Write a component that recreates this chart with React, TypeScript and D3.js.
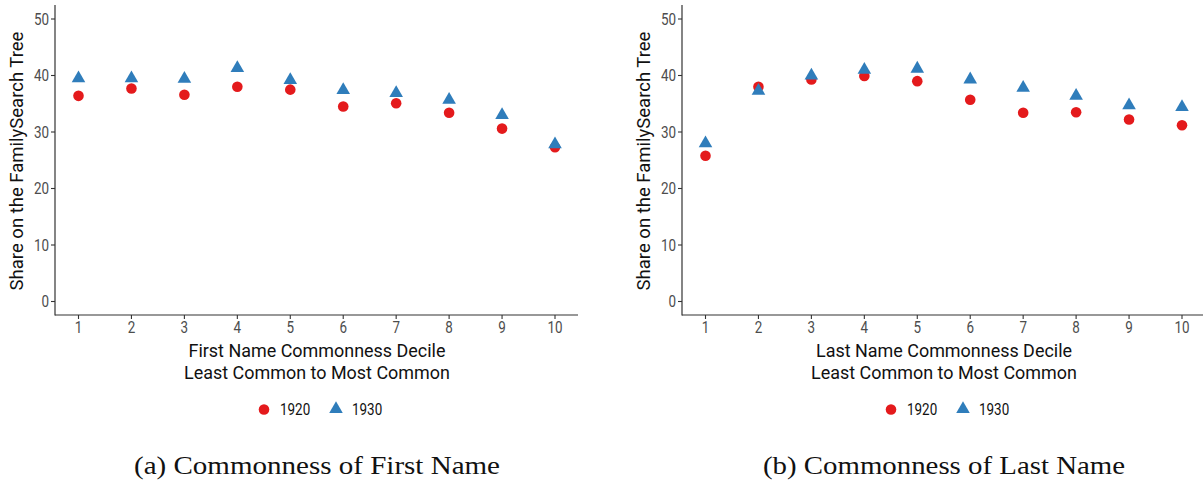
import * as d3 from 'd3';

const deciles = [1, 2, 3, 4, 5, 6, 7, 8, 9, 10];
const yTicks = [0, 10, 20, 30, 40, 50];

const first1920 = [36.4, 37.7, 36.6, 38.0, 37.5, 34.5, 35.1, 33.4, 30.6, 27.3];
const first1930 = [39.5, 39.5, 39.4, 41.3, 39.2, 37.4, 36.9, 35.7, 33.0, 27.8];
const last1920 = [25.8, 38.0, 39.3, 39.9, 39.0, 35.7, 33.4, 33.5, 32.2, 31.2];
const last1930 = [28.0, 37.3, 40.0, 41.0, 41.2, 39.3, 37.8, 36.4, 34.7, 34.4];

const RED = '#e41a1c';
const BLUE = '#2f7dbb';
const TICK_FONT = 'Roboto, sans-serif';

const y = d3.scaleLinear().domain([0, 50]).range([301.5, 19]);
const triangle = d3.symbol(d3.symbolTriangle, 80)() as string;

// condensed look: no Roboto Condensed installed, so squeeze horizontally
function CText({ x, y, children, anchor = 'middle', size = 16, fill = '#4d4d4d', sx = 0.84 }: any) {
  return (
    <text
      transform={`translate(${x},${y}) scale(${sx},1)`}
      textAnchor={anchor}
      fontFamily={TICK_FONT}
      fontSize={size}
      fill={fill}
    >
      {children}
    </text>
  );
}

function Panel({ left, right, s1920, s1930, xTitle, caption, letter }: any) {
  const axisLeft = left;
  const x = d3.scaleLinear().domain([1, 10]).range([left + 23.5, left + 500]);
  const center = left + 262;
  return (
    <g>
      {/* y axis */}
      <line x1={axisLeft} x2={axisLeft} y1={5} y2={315.5} stroke="#333" strokeWidth={1.2} />
      {yTicks.map(t => (
        <g key={t}>
          <line x1={axisLeft - 4} x2={axisLeft} y1={y(t)} y2={y(t)} stroke="#333" strokeWidth={1.1} />
          <CText x={axisLeft - 6} y={y(t) + 5.5} anchor="end">{t}</CText>
        </g>
      ))}
      <text
        transform={`translate(${left - 32},${161}) rotate(-90)`}
        textAnchor="middle"
        fontFamily={TICK_FONT}
        fontSize={18.5}
        fill="#111"
      >
        Share on the FamilySearch Tree
      </text>

      {/* x axis */}
      <line x1={axisLeft} x2={right} y1={315} y2={315} stroke="#333" strokeWidth={1.2} />
      {deciles.map(d => (
        <g key={d}>
          <line x1={x(d)} x2={x(d)} y1={315} y2={319} stroke="#333" strokeWidth={1.1} />
          <CText x={x(d)} y={333}>{d}</CText>
        </g>
      ))}
      <CText x={center} y={357} size={18.5} sx={0.97} fill="#111">{xTitle}</CText>
      <CText x={center} y={379} size={18.5} sx={0.97} fill="#111">Least Common to Most Common</CText>

      {/* points */}
      {deciles.map((d, i) => (
        <circle key={'r' + d} cx={x(d)} cy={y(s1920[i])} r={5.3} fill={RED} />
      ))}
      {deciles.map((d, i) => (
        <path key={'b' + d} d={triangle} transform={`translate(${x(d)},${y(s1930[i])})`} fill={BLUE} />
      ))}

      {/* legend */}
      <circle cx={center - 53} cy={409.5} r={5.3} fill={RED} />
      <CText x={center - 37} y={415} anchor="start" size={16} fill="#111">1920</CText>
      <path d={triangle} transform={`translate(${center + 19},${409})`} fill={BLUE} />
      <CText x={center + 35} y={415} anchor="start" size={16} fill="#111">1930</CText>

      {/* caption */}
      <text
        x={center}
        y={474}
        textAnchor="middle"
        fontFamily="'Liberation Serif', serif"
        fontSize={25}
        fill="#111"
        textLength={letter === 'a' ? 366 : 362}
        lengthAdjust="spacingAndGlyphs"
      >
        {caption}
      </text>
    </g>
  );
}

export default function App() {
  return (
    <svg
      width={1203}
      height={487}
      style={{ position: 'absolute', left: 0, top: 0, background: '#fff' }}
    >
      <rect width={1203} height={487} fill="#fff" />
      <Panel
        left={55}
        right={578}
        s1920={first1920}
        s1930={first1930}
        xTitle="First Name Commonness Decile"
        caption="(a) Commonness of First Name"
        letter="a"
      />
      <Panel
        left={682}
        right={1203}
        s1920={last1920}
        s1930={last1930}
        xTitle="Last Name Commonness Decile"
        caption="(b) Commonness of Last Name"
        letter="b"
      />
    </svg>
  );
}
